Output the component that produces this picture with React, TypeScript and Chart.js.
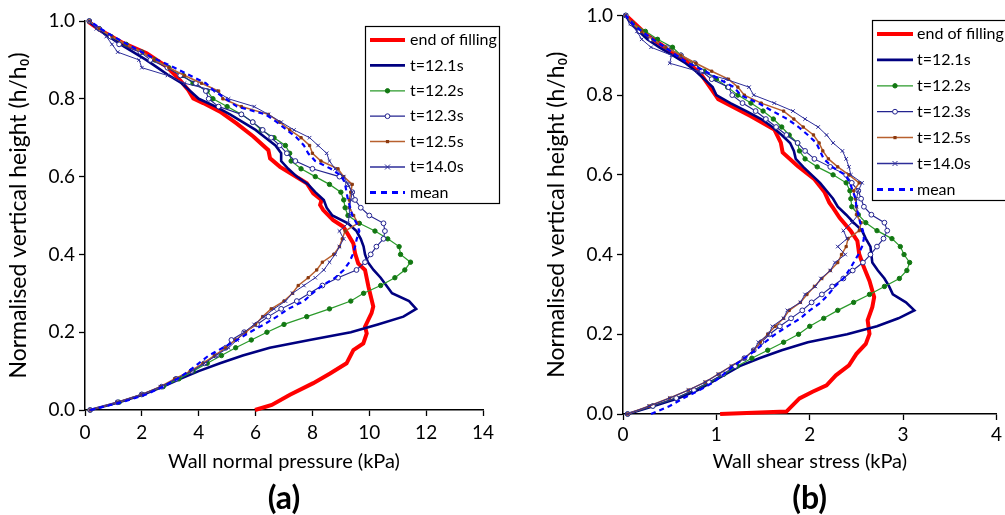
import React, { useEffect, useRef } from 'react';
import { Chart, registerables } from 'chart.js';
Chart.register(...registerables);

const FONT = "Lato, 'DejaVu Sans', sans-serif";

// Shared height grid (h/h0) for the time-step series
const heights = [0, 0.02, 0.04, 0.06, 0.08, 0.1, 0.12, 0.14, 0.16, 0.18, 0.2, 0.22, 0.24, 0.26, 0.28, 0.3, 0.32, 0.34, 0.36, 0.38, 0.4, 0.42, 0.44, 0.46, 0.48, 0.5, 0.52, 0.54, 0.56, 0.58, 0.6, 0.62, 0.64, 0.66, 0.68, 0.7, 0.72, 0.74, 0.76, 0.78, 0.8, 0.82, 0.84, 0.86, 0.88, 0.9, 0.92, 0.94, 0.96, 0.98, 1];

// ---------- Panel (a): wall normal pressure (kPa) ----------
const redHeightsA = [0, 0.013, 0.039, 0.069, 0.094, 0.12, 0.154, 0.171, 0.197, 0.214, 0.249, 0.266, 0.317, 0.36, 0.377, 0.403, 0.428, 0.471, 0.488, 0.514, 0.527, 0.54, 0.557, 0.583, 0.604, 0.625, 0.647, 0.668, 0.703, 0.737, 0.767, 0.789, 0.801, 0.823, 0.848, 0.883, 0.917, 0.943, 0.977, 0.998];
const redA = [5.98, 6.57, 7.21, 8.03, 8.62, 9.2, 9.44, 9.79, 9.91, 9.85, 10.08, 10.14, 9.97, 9.85, 9.61, 9.5, 9.44, 9.09, 8.73, 8.38, 8.27, 8.32, 8.03, 7.8, 7.33, 6.86, 6.51, 6.45, 5.92, 5.33, 4.75, 4.16, 3.81, 3.63, 3.34, 2.87, 2.17, 1.35, 0.53, 0.12];
const a121 = [0.18, 1.2, 2.05, 2.75, 3.35, 4.0, 4.75, 5.55, 6.5, 7.9, 9.35, 10.3, 11.2, 11.65, 11.4, 10.8, 10.6, 10.4, 10.15, 9.95, 9.85, 9.8, 9.7, 9.55, 9.25, 8.7, 8.5, 8.4, 8.1, 7.85, 7.45, 7.15, 6.9, 6.9, 6.7, 6.35, 6.0, 5.55, 5.1, 4.6, 4.0, 3.7, 3.4, 2.95, 2.55, 2.15, 1.7, 1.25, 0.85, 0.45, 0.12];
const a122 = [0.18, 1.2, 2.0, 2.75, 3.3, 3.8, 4.3, 4.8, 5.3, 5.85, 6.4, 7.0, 7.8, 8.6, 9.35, 9.8, 10.4, 10.9, 11.25, 11.45, 11.1, 11.05, 10.65, 10.2, 9.65, 9.25, 9.15, 9.1, 9.0, 8.6, 8.1, 7.6, 7.25, 7.2, 7.05, 6.65, 6.2, 5.9, 5.5, 5.0, 4.5, 4.3, 3.8, 3.45, 2.95, 2.45, 2.0, 1.45, 0.9, 0.5, 0.15];
const a123 = [0.18, 1.15, 2.0, 2.7, 3.2, 3.75, 4.2, 4.6, 4.95, 5.15, 5.6, 6.05, 6.45, 6.9, 7.45, 7.9, 8.35, 8.9, 9.55, 9.85, 10.05, 10.25, 10.5, 10.55, 10.5, 10.0, 9.7, 9.5, 9.4, 9.25, 8.95, 8.0, 7.4, 7.1, 6.85, 6.55, 6.25, 5.9, 5.5, 4.7, 4.35, 4.25, 3.9, 3.35, 2.9, 2.3, 1.95, 1.2, 0.9, 0.5, 0.15];
const a125 = [0.18, 1.15, 2.0, 2.65, 3.15, 3.7, 4.15, 4.55, 4.95, 5.3, 5.65, 6.0, 6.25, 6.55, 7.0, 7.3, 7.5, 7.85, 8.15, 8.35, 8.75, 8.95, 9.05, 9.15, 9.6, 9.45, 9.3, 9.3, 9.35, 9.4, 9.1, 8.9, 8.3, 8.0, 7.9, 7.6, 7.2, 6.85, 6.45, 5.5, 4.85, 4.7, 4.1, 3.5, 2.95, 2.45, 2.0, 1.45, 0.95, 0.5, 0.15];
const a140 = [0.18, 1.15, 2.0, 2.65, 3.2, 3.75, 4.2, 4.6, 5.05, 5.35, 5.6, 5.95, 6.3, 6.65, 7.05, 7.3, 7.7, 8.1, 8.4, 8.6, 8.8, 8.95, 9.1, 8.95, 9.25, 9.3, 9.3, 9.35, 9.4, 9.25, 9.1, 8.8, 8.6, 8.5, 8.2, 7.9, 7.35, 6.9, 6.45, 5.95, 5.05, 4.6, 3.5, 2.9, 2.0, 1.9, 1.15, 0.95, 0.75, 0.4, 0.15];
const aMean = [0.18, 1.3, 2.15, 2.75, 3.25, 3.65, 4.0, 4.35, 4.85, 5.35, 5.8, 6.3, 6.75, 7.15, 7.7, 8.0, 8.35, 8.8, 9.1, 9.3, 9.42, 9.5, 9.56, 9.65, 9.55, 9.4, 9.33, 9.25, 9.2, 9.15, 9.05, 8.65, 8.1, 7.85, 7.7, 7.45, 7.1, 6.75, 6.35, 5.35, 4.95, 4.55, 4.25, 3.7, 3.15, 2.55, 2.0, 1.5, 1.0, 0.55, 0.18];

// ---------- Panel (b): wall shear stress (kPa) ----------
const redHeightsB = [0, 0.006, 0.039, 0.056, 0.072, 0.097, 0.122, 0.151, 0.176, 0.201, 0.235, 0.268, 0.293, 0.334, 0.368, 0.401, 0.434, 0.459, 0.492, 0.517, 0.53, 0.556, 0.589, 0.622, 0.656, 0.681, 0.714, 0.747, 0.79, 0.814, 0.854, 0.883, 0.917, 0.95, 0.996];
const redB = [1.04, 1.75, 1.89, 2.03, 2.18, 2.28, 2.42, 2.5, 2.6, 2.64, 2.62, 2.67, 2.69, 2.64, 2.58, 2.53, 2.51, 2.44, 2.32, 2.25, 2.21, 2.16, 2.05, 1.87, 1.71, 1.69, 1.62, 1.37, 1.02, 0.95, 0.83, 0.69, 0.47, 0.26, 0.05];
const b121 = [0.05, 0.33, 0.6, 0.8, 0.95, 1.1, 1.25, 1.46, 1.7, 1.98, 2.4, 2.72, 2.95, 3.12, 3.03, 2.89, 2.85, 2.8, 2.73, 2.67, 2.66, 2.65, 2.6, 2.56, 2.47, 2.39, 2.3, 2.25, 2.18, 2.11, 2.02, 1.93, 1.85, 1.83, 1.79, 1.7, 1.6, 1.48, 1.32, 1.15, 1.0, 0.96, 0.87, 0.78, 0.67, 0.53, 0.39, 0.26, 0.17, 0.08, 0.03];
const b122 = [0.05, 0.32, 0.57, 0.76, 0.93, 1.08, 1.22, 1.38, 1.55, 1.72, 1.88, 2.0, 2.15, 2.3, 2.47, 2.64, 2.8, 2.96, 3.04, 3.07, 3.01, 2.97, 2.88, 2.72, 2.6, 2.52, 2.45, 2.44, 2.43, 2.39, 2.25, 2.08, 1.95, 1.89, 1.87, 1.78, 1.7, 1.61, 1.5, 1.37, 1.23, 1.12, 1.0, 0.87, 0.76, 0.62, 0.53, 0.37, 0.24, 0.1, 0.03];
const b123 = [0.05, 0.32, 0.57, 0.76, 0.92, 1.07, 1.2, 1.3, 1.4, 1.48, 1.57, 1.68, 1.8, 1.92, 2.02, 2.13, 2.24, 2.36, 2.46, 2.57, 2.65, 2.72, 2.79, 2.83, 2.8, 2.66, 2.58, 2.55, 2.52, 2.45, 2.39, 2.22, 2.05, 1.95, 1.87, 1.75, 1.64, 1.53, 1.42, 1.28, 1.17, 1.13, 0.95, 0.84, 0.77, 0.62, 0.47, 0.3, 0.17, 0.09, 0.03];
const b125 = [0.05, 0.28, 0.5, 0.7, 0.88, 1.02, 1.16, 1.3, 1.4, 1.47, 1.55, 1.63, 1.72, 1.78, 1.9, 1.97, 2.05, 2.13, 2.22, 2.3, 2.34, 2.39, 2.41, 2.53, 2.55, 2.5, 2.5, 2.49, 2.47, 2.53, 2.42, 2.3, 2.2, 2.14, 2.1, 2.04, 1.93, 1.83, 1.72, 1.48, 1.3, 1.23, 1.13, 0.95, 0.78, 0.62, 0.46, 0.32, 0.2, 0.1, 0.03];
const b140 = [0.05, 0.28, 0.5, 0.7, 0.88, 1.02, 1.16, 1.3, 1.4, 1.45, 1.56, 1.6, 1.72, 1.76, 1.9, 1.95, 2.06, 2.12, 2.22, 2.27, 2.38, 2.3, 2.4, 2.36, 2.45, 2.52, 2.5, 2.5, 2.52, 2.56, 2.44, 2.42, 2.39, 2.35, 2.25, 2.18, 2.09, 1.95, 1.82, 1.62, 1.4, 1.35, 1.1, 0.8, 0.5, 0.52, 0.3, 0.2, 0.15, 0.08, 0.03];
const bMean = [0.3, 0.5, 0.65, 0.82, 0.97, 1.08, 1.18, 1.3, 1.42, 1.52, 1.63, 1.76, 1.9, 2.0, 2.12, 2.2, 2.27, 2.36, 2.42, 2.47, 2.52, 2.56, 2.58, 2.57, 2.54, 2.52, 2.5, 2.49, 2.46, 2.43, 2.38, 2.24, 2.15, 2.11, 2.07, 1.98, 1.88, 1.76, 1.6, 1.45, 1.26, 1.19, 1.03, 0.88, 0.7, 0.57, 0.45, 0.32, 0.2, 0.1, 0.03];

const seriesLabels = ['end of filling', 't=12.1s', 't=12.2s', 't=12.3s', 't=12.5s', 't=14.0s', 'mean'];

type Style = {
  color: string; width: number; dash?: number[]; pointStyle?: string; radius: number;
  pointBg?: string; pointBorder?: string;
};
const styles: Style[] = [
  { color: '#ff0000', width: 4, radius: 0 },
  { color: '#000080', width: 2.6, radius: 0 },
  { color: '#2a9a2a', width: 1.2, pointStyle: 'circle', radius: 2.2, pointBg: '#127812', pointBorder: '#127812' },
  { color: '#23238f', width: 1.1, pointStyle: 'circle', radius: 2.4, pointBg: '#ffffff', pointBorder: '#23238f' },
  { color: '#b8602e', width: 1.5, pointStyle: 'rect', radius: 1.6, pointBg: '#8b3a10', pointBorder: '#8b3a10' },
  { color: '#2d2d99', width: 1, pointStyle: 'crossRot', radius: 2.5, pointBg: '#2d2d99', pointBorder: '#2d2d99' },
  { color: '#0000ff', width: 2.2, dash: [5, 4], radius: 0 },
];

function makeDatasets(series: { xs: number[]; hs: number[] }[]) {
  return series.map((s, i) => {
    const st = styles[i];
    return {
      label: seriesLabels[i],
      data: s.xs.map((v, k) => ({ x: v, y: s.hs[k] })),
      showLine: true,
      borderColor: st.color,
      borderWidth: st.width,
      borderDash: st.dash || [],
      pointRadius: st.radius,
      pointStyle: st.pointStyle || 'circle',
      pointBackgroundColor: st.pointBg || st.color,
      pointBorderColor: st.pointBorder || st.color,
      pointBorderWidth: 1,
      tension: 0,
      fill: false,
      clip: 6,
      order: series.length - i,
    };
  });
}

function drawMarker(ctx: CanvasRenderingContext2D, st: Style, x: number, y: number) {
  if (!st.pointStyle || st.radius === 0) return;
  const r = st.radius;
  ctx.save();
  ctx.setLineDash([]);
  ctx.lineWidth = 1;
  ctx.strokeStyle = st.pointBorder || st.color;
  ctx.fillStyle = st.pointBg || st.color;
  if (st.pointStyle === 'circle') {
    ctx.beginPath();
    ctx.arc(x, y, r, 0, Math.PI * 2);
    ctx.fill();
    ctx.stroke();
  } else if (st.pointStyle === 'rect') {
    ctx.fillRect(x - r, y - r, 2 * r, 2 * r);
  } else if (st.pointStyle === 'crossRot') {
    ctx.beginPath();
    ctx.moveTo(x - r, y - r); ctx.lineTo(x + r, y + r);
    ctx.moveTo(x + r, y - r); ctx.lineTo(x - r, y + r);
    ctx.stroke();
  }
  ctx.restore();
}

type LegendCfg = { x: number; y: number; w: number; h: number; firstY: number; rowH: number; lx0: number; lx1: number; tx: number; panel: string };

function makePlugin(cfg: LegendCfg) {
  return {
    id: 'customLegend',
    afterDraw(chart: any) {
      const ctx: CanvasRenderingContext2D = chart.ctx;
      ctx.save();
      ctx.fillStyle = '#ffffff';
      ctx.fillRect(cfg.x, cfg.y, cfg.w, cfg.h);
      ctx.strokeStyle = '#000000';
      ctx.lineWidth = 1.2;
      ctx.strokeRect(cfg.x + 0.5, cfg.y + 0.5, cfg.w, cfg.h);
      seriesLabels.forEach((label, i) => {
        const st = styles[i];
        const y = cfg.firstY + i * cfg.rowH;
        ctx.strokeStyle = st.color;
        ctx.lineWidth = st.dash ? 3 : Math.max(st.width, 1.3);
        ctx.setLineDash(st.dash ? [6, 5] : []);
        ctx.beginPath();
        ctx.moveTo(cfg.lx0, y);
        ctx.lineTo(cfg.lx1, y);
        ctx.stroke();
        ctx.setLineDash([]);
        drawMarker(ctx, st, (cfg.lx0 + cfg.lx1) / 2, y);
        ctx.fillStyle = '#000000';
        ctx.font = `16px ${FONT}`;
        ctx.textBaseline = 'middle';
        ctx.textAlign = 'left';
        ctx.fillText(label, cfg.tx, y);
      });
      // panel label
      const ca = chart.chartArea;
      ctx.font = `bold 32px ${FONT}`;
      ctx.textAlign = 'center';
      ctx.textBaseline = 'middle';
      ctx.fillStyle = '#000000';
      ctx.fillText(cfg.panel, (ca.left + ca.right) / 2, 499);
      ctx.restore();
    },
  };
}

type PanelProps = {
  left: number; width: number; datasets: any[]; xMax: number; xStep: number; xTitle: string;
  padding: { left: number; right: number; top: number; bottom: number };
  xHeight: number; xTickPad: number; legend: LegendCfg;
};

function Panel(p: PanelProps) {
  const ref = useRef<HTMLCanvasElement | null>(null);
  useEffect(() => {
    if (!ref.current) return;
    const chart = new Chart(ref.current, {
      type: 'scatter',
      data: { datasets: p.datasets },
      options: {
        animation: false,
        responsive: false,
        layout: { padding: p.padding },
        plugins: { legend: { display: false }, tooltip: { enabled: false } },
        scales: {
          x: {
            type: 'linear', min: 0, max: p.xMax,
            ticks: { stepSize: p.xStep, color: '#000', font: { family: FONT, size: 19 }, padding: p.xTickPad },
            grid: { display: true, drawOnChartArea: false, drawTicks: true, tickLength: 6, tickColor: '#000', tickWidth: 1.3 },
            border: { display: true, color: '#000', width: 1.5 },
            title: { display: true, text: p.xTitle, color: '#000', font: { family: FONT, size: 20 }, padding: { top: 0, bottom: 6 } },
            afterFit: (s: any) => { s.height = p.xHeight; },
          },
          y: {
            type: 'linear', min: 0, max: 1,
            ticks: { stepSize: 0.2, color: '#000', font: { family: FONT, size: 19 }, padding: 4, callback: (v: any) => Number(v).toFixed(1) },
            grid: { display: true, drawOnChartArea: false, drawTicks: true, tickLength: 6, tickColor: '#000', tickWidth: 1.3 },
            border: { display: true, color: '#000', width: 1.5 },
            title: { display: true, text: 'Normalised vertical height (h/h₀)', color: '#000', font: { family: FONT, size: 23 }, padding: { top: 5, bottom: 0 } },
            afterFit: (s: any) => { s.width = 85; },
          },
        },
      },
      plugins: [makePlugin(p.legend)],
    } as any);
    return () => chart.destroy();
  }, []);
  return (
    <canvas ref={ref} width={p.width} height={515}
      style={{ position: 'absolute', left: p.left, top: 0, width: p.width, height: 515, display: 'block' }} />
  );
}

export default function App() {
  const dsA = makeDatasets([
    { xs: redA, hs: redHeightsA },
    { xs: a121, hs: heights },
    { xs: a122, hs: heights },
    { xs: a123, hs: heights },
    { xs: a125, hs: heights },
    { xs: a140, hs: heights },
    { xs: aMean, hs: heights },
  ]);
  const dsB = makeDatasets([
    { xs: redB, hs: redHeightsB },
    { xs: b121, hs: heights },
    { xs: b122, hs: heights },
    { xs: b123, hs: heights },
    { xs: b125, hs: heights },
    { xs: b140, hs: heights },
    { xs: bMean, hs: heights },
  ]);
  return (
    <div style={{ position: 'absolute', left: 0, top: 0, width: 1005, height: 515, background: '#fff', overflow: 'hidden' }}>
      <Panel left={0} width={505} datasets={dsA} xMax={14} xStep={2} xTitle="Wall normal pressure (kPa)"
        padding={{ left: 0, right: 22, top: 21, bottom: 35 }} xHeight={70} xTickPad={5}
        legend={{ x: 365, y: 26, w: 134, h: 177, firstY: 40, rowH: 25.4, lx0: 370, lx1: 405, tx: 410, panel: '(a)' }} />
      <Panel left={505} width={500} datasets={dsB} xMax={4} xStep={1} xTitle="Wall shear stress (kPa)"
        padding={{ left: 33, right: 7, top: 13, bottom: 35 }} xHeight={66} xTickPad={3}
        legend={{ x: 367, y: 20, w: 150, h: 180, firstY: 34, rowH: 25.9, lx0: 372, lx1: 408, tx: 412, panel: '(b)' }} />
    </div>
  );
}
